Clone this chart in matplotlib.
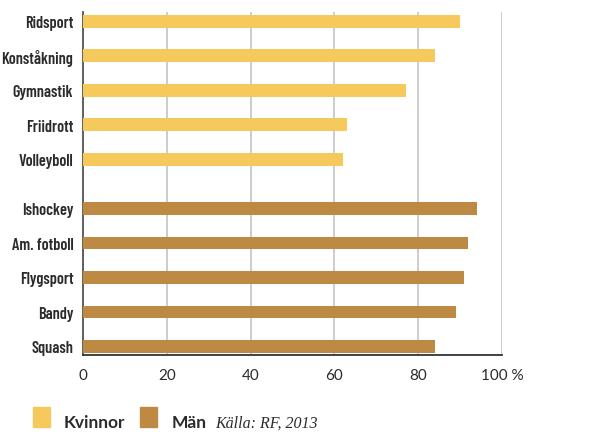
import numpy as np
import matplotlib
matplotlib.use("Agg")
import matplotlib.pyplot as plt
from matplotlib.patches import Rectangle

# -----------------------------
# Data (percent)
# -----------------------------
kvinnor_sports = ["Ridsport", "Konståkning", "Gymnastik", "Friidrott", "Volleyboll"]
kvinnor_values = [90, 84, 77, 63, 62]

man_sports = ["Ishockey", "Am. fotboll", "Flygsport", "Bandy", "Squash"]
man_values = [94, 92, 91, 89, 84]

x_ticks = [0, 20, 40, 60, 80, 100]
x_ticklabels = ["0", "20", "40", "60", "80", "100 %"]

col_kvinnor = "#F5C95B"
col_man = "#BE8943"

label_font = ["Barlow Condensed", "DejaVu Sans"]
tick_font = ["Lato", "DejaVu Sans"]

# -----------------------------
# Positions (second group a bit further down)
# -----------------------------
gap = 0.43
y_k = np.arange(len(kvinnor_sports))
y_m = np.arange(len(man_sports)) + len(kvinnor_sports) + gap

fig = plt.figure(figsize=(6.1, 4.35), dpi=100)
ax = fig.add_axes([83/610, 1 - 356/435, (502-83)/610, (356-13)/435])

bar_h = 0.37
ax.barh(y_k, kvinnor_values, height=bar_h, color=col_kvinnor, zorder=3)
ax.barh(y_m, man_values, height=bar_h, color=col_man, zorder=3)

ax.set_xlim(0, 100)
ax.set_ylim(y_m[-1] + 0.25, y_k[0] - 0.27)

ax.set_yticks(np.concatenate([y_k, y_m]))
ax.set_yticklabels(kvinnor_sports + man_sports, family=label_font,
                   fontweight=600, fontsize=11.7, color="#2b2b2b")
ax.set_xticks(x_ticks)
ax.set_xticklabels(x_ticklabels, family=tick_font, fontsize=11, color="#2b2b2b")
ax.tick_params(axis="both", length=0)
ax.tick_params(axis="x", pad=9)
ax.tick_params(axis="y", pad=7)

ax.grid(axis="x", color="#c4c4c4", linewidth=1.2, zorder=0)
ax.grid(axis="y", visible=False)

for s in ["top", "right"]:
    ax.spines[s].set_visible(False)
ax.spines["left"].set_color("#555555")
ax.spines["left"].set_linewidth(1.3)
ax.spines["bottom"].set_color("#333333")
ax.spines["bottom"].set_linewidth(1.3)

# -----------------------------
# Legend + source line at bottom
# -----------------------------
W, H = 610, 435
fig.patches.append(Rectangle((33/W, 1 - 428/H), 17/W, 20/H,
                             transform=fig.transFigure, color=col_kvinnor))
fig.text(64/W, 1 - 428/H, "Kvinnor", family=tick_font, fontweight="bold",
         fontsize=12.5, color="#2b2b2b", va="baseline")
fig.patches.append(Rectangle((140/W, 1 - 428/H), 17/W, 20/H,
                             transform=fig.transFigure, color=col_man))
fig.text(172/W, 1 - 428/H, "Män", family=tick_font, fontweight="bold",
         fontsize=12.5, color="#2b2b2b", va="baseline")
fig.text(215/W, 1 - 428/H, "Källa: RF, 2013", family=["Liberation Serif", "DejaVu Serif"],
         style="italic", fontsize=11.5, color="#2b2b2b", va="baseline")

fig.savefig("out.png", dpi=100)
